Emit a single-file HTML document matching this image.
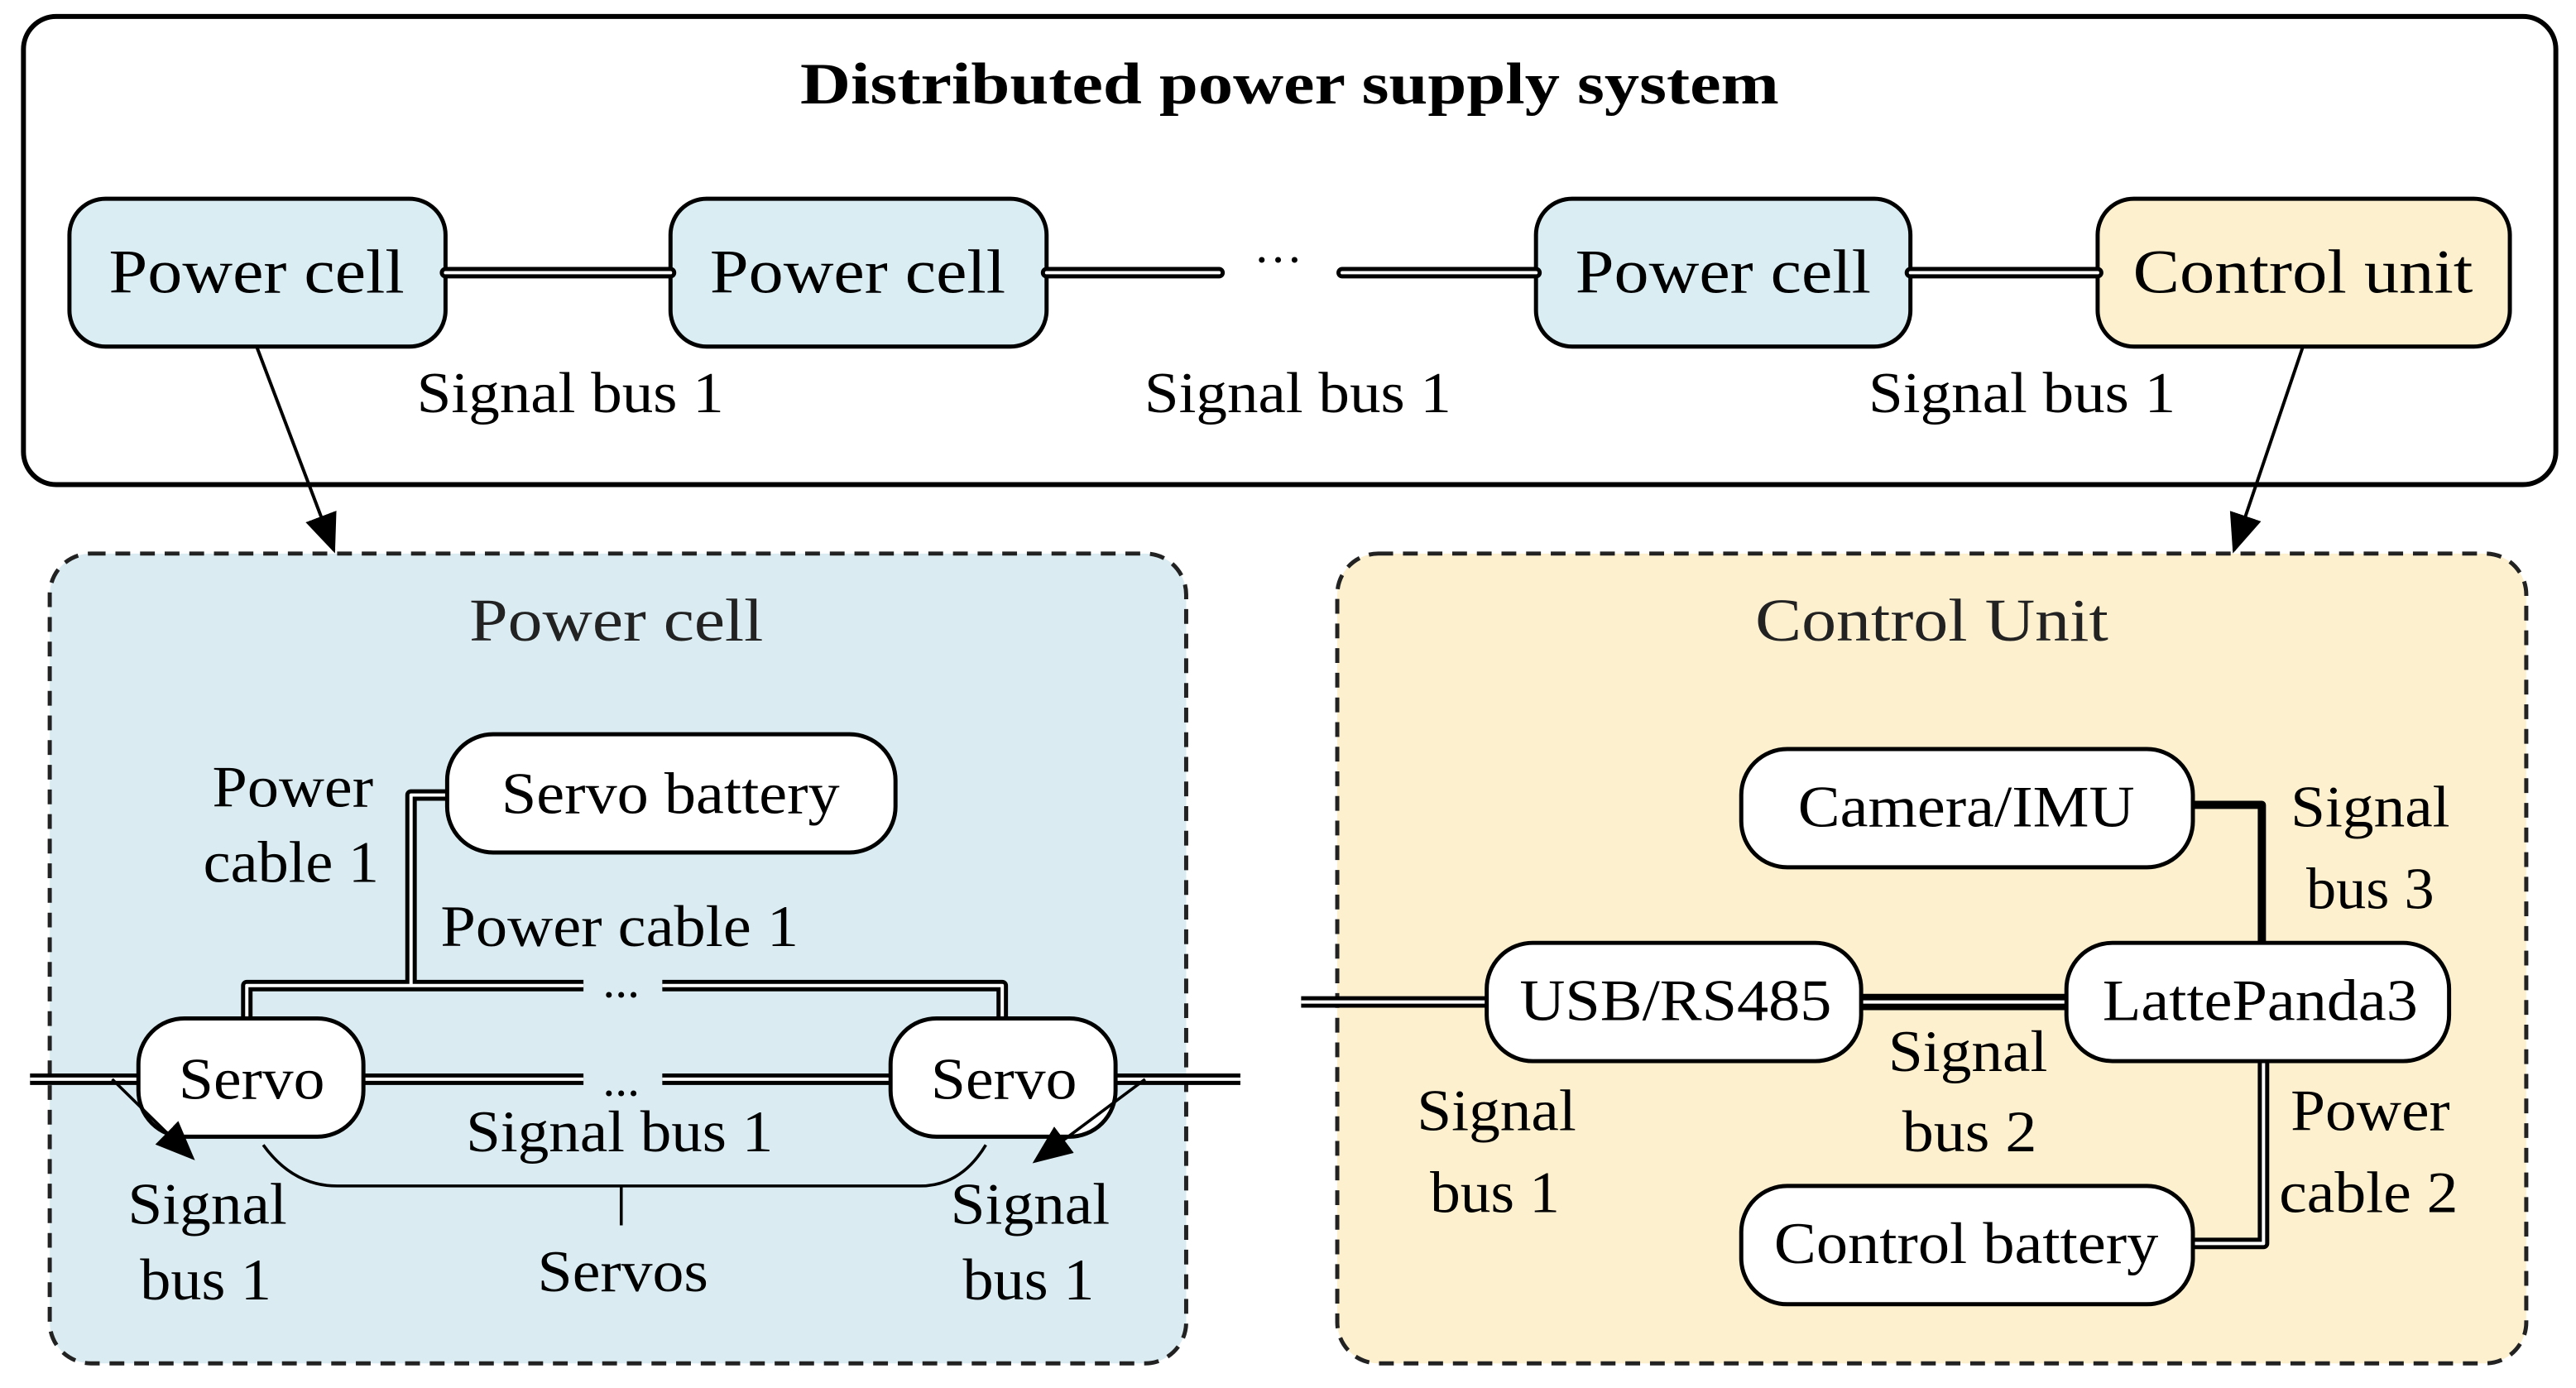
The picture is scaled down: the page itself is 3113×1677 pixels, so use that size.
<!DOCTYPE html>
<html><head><style>html,body{margin:0;padding:0;background:#fff}svg{display:block}</style></head>
<body>
<svg width="3113" height="1677" viewBox="0 0 1568 845" xmlns="http://www.w3.org/2000/svg" font-family="'Liberation Serif',serif">
<defs>
<marker id="ah2" markerWidth="24" markerHeight="20" refX="22" refY="10" orient="auto" markerUnits="userSpaceOnUse" viewBox="0 0 24 20">
<path d="M0,0 L24,10 L0,20 z" fill="#000"/></marker>
</defs>
<rect x="14" y="10" width="1542" height="285" rx="20" fill="#fff" stroke="#000" stroke-width="3"/>
<text x="785" y="63" font-size="36" font-weight="bold" text-anchor="middle" textLength="596" lengthAdjust="spacingAndGlyphs">Distributed power supply system</text>
<g stroke="#000" stroke-width="2.5">
<rect x="42" y="121" width="229" height="90" rx="22" fill="#daedf3"/>
<rect x="408" y="121" width="229" height="90" rx="22" fill="#daedf3"/>
<rect x="935" y="121" width="228" height="90" rx="22" fill="#daedf3"/>
<rect x="1277" y="121" width="251" height="90" rx="22" fill="#fdf0cf"/>
</g>
<g font-size="38" text-anchor="middle" lengthAdjust="spacingAndGlyphs">
<text x="156" y="178" textLength="180" lengthAdjust="spacingAndGlyphs">Power cell</text><text x="522" y="178" textLength="180" lengthAdjust="spacingAndGlyphs">Power cell</text>
<text x="1049" y="178" textLength="180" lengthAdjust="spacingAndGlyphs">Power cell</text><text x="1402" y="178" textLength="207" lengthAdjust="spacingAndGlyphs">Control unit</text>
</g>
<g fill="none" stroke-linecap="round">
<g stroke="#000" stroke-width="7"><path d="M271,166H408M637,166H742M817,166H935M1163,166H1277"/></g>
<g stroke="#fff" stroke-width="2"><path d="M271,166H408M637,166H742M817,166H935M1163,166H1277"/></g>
</g>
<text x="778" y="168" font-size="30" text-anchor="middle">···</text>
<g font-size="35" text-anchor="middle">
<text x="347" y="251" textLength="187" lengthAdjust="spacingAndGlyphs">Signal bus 1</text><text x="790" y="251" textLength="187" lengthAdjust="spacingAndGlyphs">Signal bus 1</text><text x="1231" y="251" textLength="187" lengthAdjust="spacingAndGlyphs">Signal bus 1</text>
</g>
<line x1="156" y1="211" x2="203" y2="335" stroke="#000" stroke-width="2" marker-end="url(#ah2)"/>
<line x1="1402" y1="211" x2="1360" y2="335" stroke="#000" stroke-width="2" marker-end="url(#ah2)"/>

<rect x="30" y="337" width="692" height="493" rx="25" fill="#daecf2" stroke="#222" stroke-width="2.5" stroke-dasharray="9,6"/>
<rect x="814" y="337" width="724" height="493" rx="25" fill="#fdf0cf" stroke="#222" stroke-width="2.5" stroke-dasharray="9,6"/>
<text x="375" y="390" font-size="37" text-anchor="middle" fill="#222" textLength="179" lengthAdjust="spacingAndGlyphs">Power cell</text>
<text x="1176" y="390" font-size="37" text-anchor="middle" fill="#222" textLength="215" lengthAdjust="spacingAndGlyphs">Control Unit</text>

<g fill="none" stroke-linejoin="round">
<g stroke="#000" stroke-width="7">
<path d="M272,484H250V600"/><path d="M150,620V600H355M403,600H610V620"/>
<path d="M18,657H102M221,657H355M403,657H542M679,657H755"/>
</g>
<g stroke="#fff" stroke-width="2">
<path d="M272,484H250V600"/><path d="M150,620V600H355M403,600H610V620"/>
<path d="M18,657H102M221,657H355M403,657H542M679,657H755"/>
</g>
</g>
<g stroke="#000" stroke-width="2.5">
<rect x="272" y="447" width="273" height="72" rx="28" fill="#fff"/>
<rect x="84" y="620" width="137" height="72" rx="28" fill="#fff"/>
<rect x="542" y="620" width="137" height="72" rx="28" fill="#fff"/>
</g>
<text x="408" y="495" font-size="36" text-anchor="middle" textLength="206" lengthAdjust="spacingAndGlyphs">Servo battery</text>
<text x="153" y="669" font-size="36" text-anchor="middle" textLength="89" lengthAdjust="spacingAndGlyphs">Servo</text>
<text x="611" y="669" font-size="36" text-anchor="middle" textLength="89" lengthAdjust="spacingAndGlyphs">Servo</text>
<g font-size="30" text-anchor="middle"><text x="378" y="607">...</text><text x="378" y="667">...</text></g>
<line x1="68" y1="657" x2="117" y2="705" stroke="#000" stroke-width="1.8" marker-end="url(#ah2)"/>
<line x1="697" y1="657" x2="630" y2="707" stroke="#000" stroke-width="1.8" marker-end="url(#ah2)"/>
<path d="M160,697 Q178,722 205,722 H560 Q585,722 600,697" fill="none" stroke="#000" stroke-width="1.8"/>
<line x1="378" y1="722" x2="378" y2="746" stroke="#000" stroke-width="1.8"/>
<g font-size="36" text-anchor="middle">
<text x="178" y="491" textLength="98" lengthAdjust="spacingAndGlyphs">Power</text><text x="177" y="537" textLength="107" lengthAdjust="spacingAndGlyphs">cable 1</text>
<text x="377" y="576" textLength="218" lengthAdjust="spacingAndGlyphs">Power cable 1</text><text x="377" y="701" textLength="187" lengthAdjust="spacingAndGlyphs">Signal bus 1</text>
<text x="126" y="745" textLength="97" lengthAdjust="spacingAndGlyphs">Signal</text><text x="125" y="791" textLength="80" lengthAdjust="spacingAndGlyphs">bus 1</text>
<text x="379" y="786" textLength="104" lengthAdjust="spacingAndGlyphs">Servos</text>
<text x="627" y="745" textLength="97" lengthAdjust="spacingAndGlyphs">Signal</text><text x="626" y="791" textLength="80" lengthAdjust="spacingAndGlyphs">bus 1</text>
</g>

<g fill="none" stroke-linejoin="round">
<path d="M1335,490H1377V574" stroke="#000" stroke-width="5"/>
<g stroke="#000" stroke-width="7"><path d="M792,610H905"/><path d="M1378,646V757H1335"/></g>
<path d="M1133,610H1258" stroke="#000" stroke-width="10"/>
<g stroke="#fff" stroke-width="2"><path d="M792,610H905"/><path d="M1378,646V757H1335"/><path d="M1133,610H1258"/></g>
</g>
<g stroke="#000" stroke-width="2.5" fill="#fff">
<rect x="1060" y="456" width="275" height="72" rx="28"/>
<rect x="905" y="574" width="228" height="72" rx="28"/>
<rect x="1258" y="574" width="233" height="72" rx="28"/>
<rect x="1060" y="722" width="275" height="72" rx="28"/>
</g>
<g font-size="36" text-anchor="middle">
<text x="1197" y="503" textLength="205" lengthAdjust="spacingAndGlyphs">Camera/IMU</text><text x="1020" y="621" textLength="190" lengthAdjust="spacingAndGlyphs">USB/RS485</text>
<text x="1376" y="621" textLength="192" lengthAdjust="spacingAndGlyphs">LattePanda3</text><text x="1197" y="769" textLength="234" lengthAdjust="spacingAndGlyphs">Control battery</text>
<text x="1443" y="503" textLength="97" lengthAdjust="spacingAndGlyphs">Signal</text><text x="1443" y="553" textLength="78" lengthAdjust="spacingAndGlyphs">bus 3</text>
<text x="1198" y="652" textLength="97" lengthAdjust="spacingAndGlyphs">Signal</text><text x="1199" y="701" textLength="82" lengthAdjust="spacingAndGlyphs">bus 2</text>
<text x="911" y="688" textLength="97" lengthAdjust="spacingAndGlyphs">Signal</text><text x="910" y="738" textLength="79" lengthAdjust="spacingAndGlyphs">bus 1</text>
<text x="1443" y="688" textLength="97" lengthAdjust="spacingAndGlyphs">Power</text><text x="1442" y="738" textLength="109" lengthAdjust="spacingAndGlyphs">cable 2</text>
</g>
</svg>
</body></html>
